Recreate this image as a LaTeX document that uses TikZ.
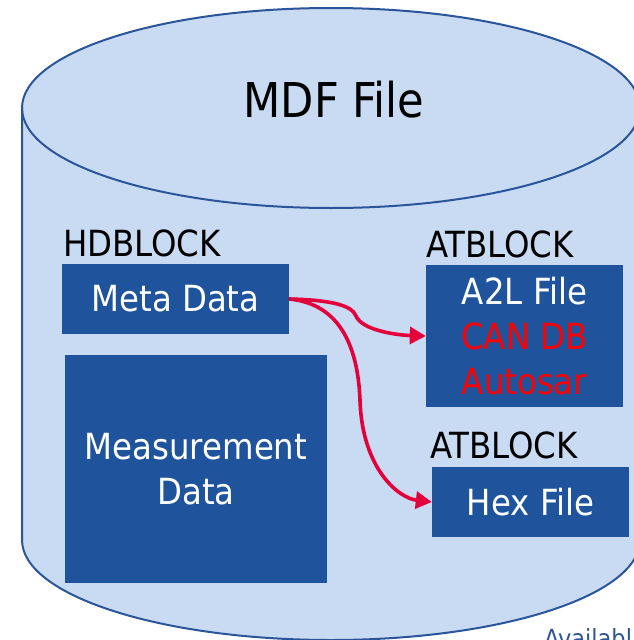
\documentclass[tikz,border=0pt]{standalone}
\usepackage{fontspec}
\setmainfont{DejaVu Sans Condensed}
\usetikzlibrary{arrows.meta}
\definecolor{cylfill}{HTML}{C9DAF3}
\definecolor{cylline}{HTML}{2A5699}
\definecolor{boxblue}{HTML}{1F549C}
\definecolor{arrowred}{HTML}{E4003B}
\definecolor{linkblue}{HTML}{2F5597}
\tikzset{
  blk/.style={fill=boxblue, draw=none, inner sep=0pt, text=white, align=center,
    font=\fontsize{36}{45}\selectfont},
  lbl/.style={anchor=base west, inner sep=0pt, text=black, font=\fontsize{36}{45}\selectfont},
  link/.style={draw=arrowred, line width=3.6pt, -{Triangle[length=16pt,width=17pt]}},
}
\begin{document}
\begin{tikzpicture}[x=1pt,y=-1pt]
\useasboundingbox (0,0) rectangle (634,640);
\clip (0,0) rectangle (634,640);
% cylinder
\fill[cylfill] (22,108) -- (22,540) arc[start angle=180,end angle=0,x radius=309,y radius=100]
  -- (640,108) arc[start angle=0,end angle=-180,x radius=309,y radius=100] -- cycle;
\draw[cylline, line width=2pt] (22,108) -- (22,540) arc[start angle=180,end angle=0,x radius=309,y radius=100] -- (640,108);
\draw[cylline, line width=2pt] (331,108) ellipse[x radius=309,y radius=100];
\node[anchor=base, inner sep=0pt, font=\fontsize{48}{56}\selectfont] (title) at (334,117) {MDF File};
% labels
\node[lbl] (hd) at (63,256) {HDBLOCK};
\node[lbl] (at1) at (426,257) {ATBLOCK};
\node[lbl] (at2) at (430,458) {ATBLOCK};
% boxes
\node[blk, minimum width=227pt, minimum height=70pt] (meta) at (175.5,299) {Meta Data};
\node[blk, minimum width=262pt, minimum height=228pt] (meas) at (196,469) {Measurement\\Data};
\node[blk, minimum width=197pt, minimum height=142pt] (a2l) at (524.5,336) {A2L File\\\textcolor{red}{CAN DB}\\\textcolor{red}{Autosar}};
\node[blk, minimum width=197pt, minimum height=70pt] (hex) at (530.5,502) {Hex File};
% arrows
\draw[link] (meta.east) .. controls (330,300) and (352,305) .. (356,316)
  .. controls (362,330) and (395,335) .. (a2l.west);
\draw[link] (meta.east) .. controls (342,304) and (358,350) .. (360,400)
  .. controls (362,468) and (398,498) .. (hex.west);
% footer text
\node[anchor=base west, inner sep=0pt, text=linkblue, font=\fontsize{25}{30}\selectfont] (avail) at (544,647) {Availabl};
\end{tikzpicture}
\end{document}
